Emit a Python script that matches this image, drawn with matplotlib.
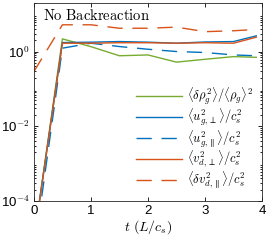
import numpy as np
import matplotlib
matplotlib.use('Agg')
import matplotlib.pyplot as plt

plt.rcParams['mathtext.fontset'] = 'cm'
plt.rcParams['font.family'] = 'Liberation Sans'
plt.rcParams['axes.formatter.use_mathtext'] = False

# data
t = [0.0, 0.5, 1.0, 1.5, 2.0, 2.5, 3.0, 3.5, 3.9]
rho_g = [9e-6, 2.18, 1.35, 0.77, 0.81, 0.52, 0.62, 0.73, 0.70]
ug_perp = [9e-6, 1.74, 1.78, 1.85, 1.78, 1.67, 1.80, 1.85, 2.63]
ug_par = [4e-6, 1.23, 1.67, 1.36, 1.15, 1.00, 0.94, 0.81, 0.77]
vd_perp = [9e-6, 1.67, 1.67, 1.72, 1.72, 1.67, 1.72, 1.67, 2.42]
vd_par = [0.29, 5.2, 5.2, 4.2, 4.2, 4.5, 3.4, 3.6, 3.9]

green = '#77AC30'
blue = '#0072BD'
red = '#D95319'

fig = plt.figure(figsize=(2.71, 2.45), dpi=100)
ax = fig.add_axes([0.125, 0.18, 0.842, 0.808])

dash = (0, (11, 7))
ax.plot(t, rho_g, color=green, lw=1, label=r'$\langle \delta\rho_g^2\rangle/\langle\rho_g\rangle^2$')
ax.plot(t, ug_perp, color=blue, lw=1, label=r'$\langle u_{g,\perp}^2\rangle/c_s^2$')
ax.plot(t, ug_par, color=blue, lw=1, ls=dash, label=r'$\langle u_{g,\parallel}^2\rangle/c_s^2$')
ax.plot(t, vd_perp, color=red, lw=1, label=r'$\langle v_{d,\perp}^2\rangle/c_s^2$')
ax.plot(t, vd_par, color=red, lw=1, ls=dash, label=r'$\langle \delta v_{d,\parallel}^2\rangle/c_s^2$')

ax.set_yscale('log')
ax.set_xlim(0, 4)
ax.set_ylim(1e-4, 20)
ax.set_xticks([0, 1, 2, 3, 4])
ax.set_yticks([1e-4, 1e-2, 1e0])
ax.set_yticklabels([r'10$^{\mathsf{-4}}$', r'10$^{\mathsf{-2}}$', r'10$^{\mathsf{0}}$'])
ax.tick_params(which='both', direction='in', top=True, right=True, labelsize=9.5, width=0.6, pad=3)
ax.tick_params(which='major', length=3)
ax.tick_params(which='minor', length=1.5)
for s in ax.spines.values():
    s.set_linewidth(0.6)
    s.set_color('#262626')

ax.set_xlabel(r'$t\ (L/c_s)$', fontsize=10, labelpad=1)
ax.text(0.04, 0.975, r'$\mathrm{No\ Backreaction}$', transform=ax.transAxes,
        fontsize=10.5, va='top', ha='left')

ax.legend(loc='lower right', bbox_to_anchor=(1.0, 0.005), frameon=False, fontsize=9.0,
          handlelength=3.7, labelspacing=-0.05, handletextpad=0.4, borderpad=0.2)

fig.savefig('out.png', dpi=100)
